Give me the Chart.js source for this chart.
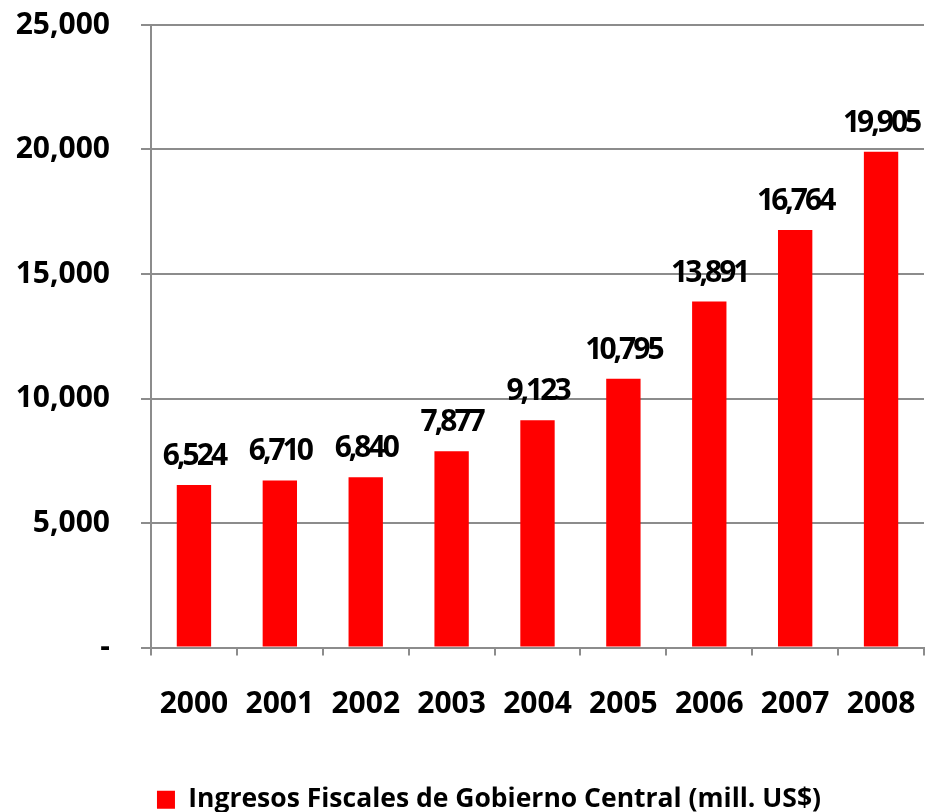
<!DOCTYPE html>
<html>
<head>
<meta charset="utf-8">
<script src="https://cdn.jsdelivr.net/npm/chart.js@4.4.1/dist/chart.umd.min.js"></script>
<style>
  html, body { margin: 0; padding: 0; background: #fff; }
  #wrap { width: 926px; height: 812px; }
</style>
</head>
<body>
<div id="wrap"><canvas id="myChart" width="926" height="812"></canvas></div>
<script>
// data
const years = ['2000', '2001', '2002', '2003', '2004', '2005', '2006', '2007', '2008'];
const ingresos = [6524, 6710, 6840, 7877, 9123, 10795, 13891, 16764, 19905];
const yTicks = [0, 5000, 10000, 15000, 20000, 25000];
const seriesName = 'Ingresos Fiscales de Gobierno Central (mill. US$)';

const FONT = "'Open Sans', 'Noto Sans', sans-serif";
const gridGrey = '#8c8c8c';

function fmt(v) {
  if (v === 0) return '-';
  return v.toLocaleString('en-US');
}

// value labels above the bars
const barLabels = {
  id: 'barLabels',
  afterDatasetsDraw(chart) {
    const ctx = chart.ctx;
    const meta = chart.getDatasetMeta(0);
    ctx.save();
    ctx.font = 'bold 30px ' + FONT;
    ctx.fillStyle = '#000';
    ctx.textAlign = 'center';
    ctx.textBaseline = 'alphabetic';
    if ('letterSpacing' in ctx) ctx.letterSpacing = '-3px';
    meta.data.forEach(function(bar, i) {
      ctx.fillText(fmt(ingresos[i]), bar.x, bar.y - 20);
    });
    ctx.restore();
  }
};

// legend sits a bit right of the canvas centre in the original
const legendShift = {
  id: 'legendShift',
  afterLayout(chart) {
    chart.legend.left += 27;
    chart.legend.right += 27;
  }
};

const config = {
  type: 'bar',
  data: {
    labels: years,
    datasets: [{
      label: seriesName,
      data: ingresos,
      backgroundColor: '#ff0000',
      borderWidth: 0,
      barPercentage: 0.4,
      categoryPercentage: 1.0
    }]
  },
  options: {
    responsive: false,
    animation: false,
    layout: { padding: { top: 25, right: 2, left: 0, bottom: -11 } },
    plugins: {
      legend: {
        position: 'bottom',
        labels: {
          color: '#000',
          font: { family: FONT, size: 26.5, weight: 'bold' },
          boxWidth: 18,
          boxHeight: 18,
          padding: 0
        }
      },
      tooltip: { enabled: false }
    },
    scales: {
      x: {
        grid: {
          offset: true,
          drawOnChartArea: false,
          drawTicks: true,
          tickLength: 8,
          color: gridGrey,
          lineWidth: 2
        },
        border: { color: gridGrey, width: 2 },
        ticks: {
          color: '#000',
          padding: 31,
          font: { family: FONT, size: 30, weight: 'bold' }
        },
        afterFit(scale) {
          scale.height = 139;
          scale.paddingLeft = 0;
          scale.paddingRight = 0;
        }
      },
      y: {
        min: 0,
        max: 25000,
        afterBuildTicks(scale) {
          scale.ticks = yTicks.map(function(v) { return { value: v }; });
        },
        grid: {
          color: gridGrey,
          lineWidth: 2,
          tickLength: 10
        },
        border: { color: gridGrey, width: 2 },
        ticks: {
          color: '#000',
          padding: 31,
          font: { family: FONT, size: 30, weight: 'bold' },
          callback: function(v) { return fmt(v); }
        },
        afterFit(scale) {
          scale.width = 151;
          scale.paddingTop = 0;
          scale.paddingBottom = 0;
        }
      }
    }
  },
  plugins: [barLabels, legendShift]
};

let canvas = document.getElementById('myChart');
const myChart = new Chart(canvas, config);
</script>
</body>
</html>
